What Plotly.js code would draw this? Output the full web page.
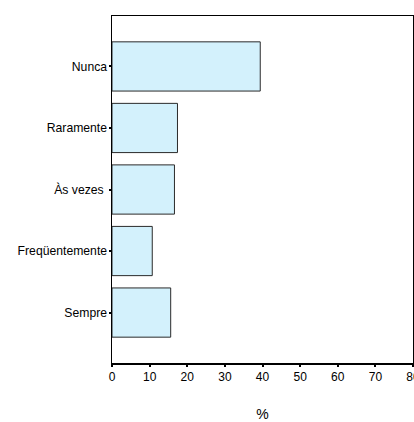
<!DOCTYPE html>
<html>
<head>
<meta charset="utf-8">
<script src="https://cdn.plot.ly/plotly-3.0.1.min.js"></script>
<style>html,body{margin:0;padding:0;background:#fff;}#chart{width:414px;height:422px;}</style>
</head>
<body>
<div id="chart"></div>
<script>
const categories = ["Nunca", "Raramente", "Às vezes ", "Freqüentemente", "Sempre"];
const percentValues = [39.4, 17.4, 16.6, 10.7, 15.6];
const xTickValues = [0, 10, 20, 30, 40, 50, 60, 70, 80];

const trace = {
  type: "bar",
  orientation: "h",
  y: categories,
  x: percentValues,
  width: 0.8,
  marker: { color: "#d3f1fc", line: { color: "#2a2a2a", width: 1 } },
  hoverinfo: "skip"
};

const layout = {
  width: 414,
  height: 422,
  margin: { l: 112, r: 1, t: 16, b: 59 },
  paper_bgcolor: "#ffffff",
  plot_bgcolor: "#ffffff",
  showlegend: false,
  font: { family: "Liberation Sans, Arial, sans-serif", color: "#000", size: 11 },
  xaxis: {
    range: [0, 80],
    tickvals: xTickValues,
    ticktext: xTickValues.map(String),
    showgrid: false,
    zeroline: false,
    showline: true,
    linecolor: "#000",
    linewidth: 1.5,
    mirror: true,
    ticks: "outside",
    ticklen: 2,
    tickwidth: 2,
    tickcolor: "#000",
    ticklabeloverflow: "allow",
    ticklabelstandoff: 0,
    tickfont: { size: 12 },
    title: { text: "%", font: { size: 14 }, standoff: 26 }
  },
  yaxis: {
    type: "category",
    range: [4.82, -0.82],
    showgrid: false,
    zeroline: false,
    showline: true,
    linecolor: "#000",
    linewidth: 1.5,
    mirror: true,
    ticks: "outside",
    ticklen: 2,
    tickwidth: 2,
    tickcolor: "#000",
    ticklabelstandoff: -1,
    tickfont: { size: 12.2 }
  }
};

Plotly.newPlot("chart", [trace], layout, { displayModeBar: false, staticPlot: true });
</script>
</body>
</html>
